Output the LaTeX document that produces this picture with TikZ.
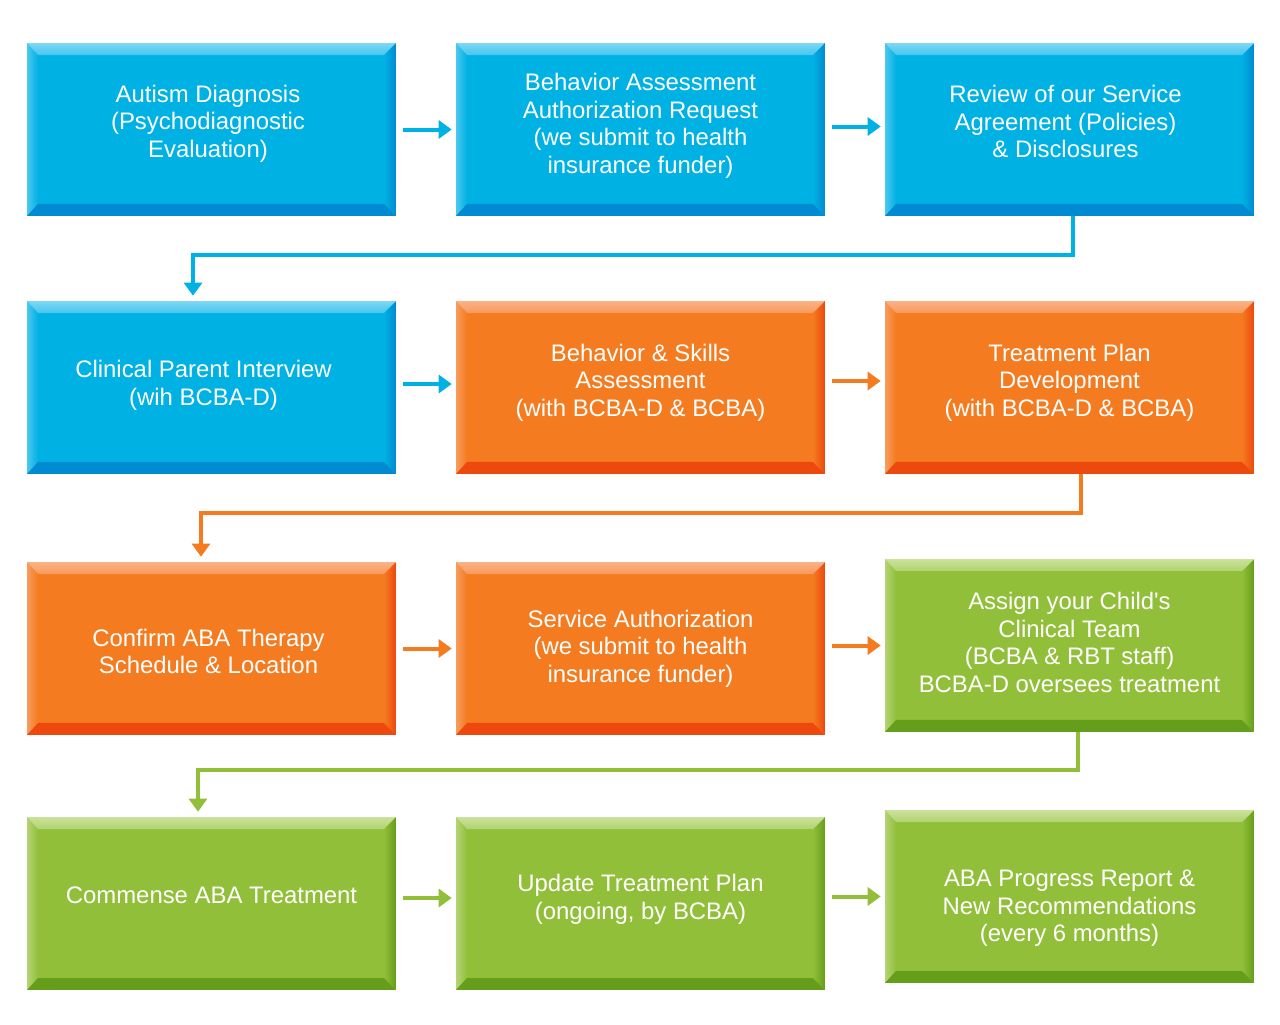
\documentclass[tikz,border=0pt]{standalone}
\usepackage{fontspec}
\setmainfont{Liberation Sans}
\usetikzlibrary{arrows.meta,calc}

\definecolor{bluemain}{RGB}{0,177,228}
\definecolor{bluelight}{RGB}{125,215,245}
\definecolor{bluedark}{RGB}{0,138,210}
\definecolor{orangemain}{RGB}{244,123,32}
\definecolor{orangelight}{RGB}{250,178,135}
\definecolor{orangedark}{RGB}{237,72,14}
\definecolor{greenmain}{RGB}{146,191,58}
\definecolor{greenlight}{RGB}{202,226,155}
\definecolor{greendark}{RGB}{101,158,26}

\tikzset{
  bevel/.style n args={3}{minimum width=7.38cm, minimum height=3.46cm, inner sep=0pt,
    fill=#1,
    path picture={
      \coordinate (nw) at (path picture bounding box.north west);
      \coordinate (ne) at (path picture bounding box.north east);
      \coordinate (sw) at (path picture bounding box.south west);
      \coordinate (se) at (path picture bounding box.south east);
      % left and right sides
      \shade[left color=#2!60!#1, right color=#1] (nw) -- (sw) -- ($(sw)+(0.22cm,0.24cm)$) -- ($(nw)+(0.22cm,-0.24cm)$) -- cycle;
      \shade[left color=#1, right color=#3] (ne) -- (se) -- ($(se)+(-0.24cm,0.24cm)$) -- ($(ne)+(-0.24cm,-0.24cm)$) -- cycle;
      % top and bottom
      \shade[top color=#2, bottom color=#2!55!#1] (nw) -- (ne) -- ($(ne)+(-0.24cm,-0.24cm)$) -- ($(nw)+(0.22cm,-0.24cm)$) -- cycle;
      \fill[#3] (sw) -- (se) -- ($(se)+(-0.24cm,0.24cm)$) -- ($(sw)+(0.22cm,0.24cm)$) -- cycle;
    }},
  bluebox/.style={bevel={bluemain}{bluelight}{bluedark}},
  orangebox/.style={bevel={orangemain}{orangelight}{orangedark}},
  greenbox/.style={bevel={greenmain}{greenlight}{greendark}},
  boxtext/.style={text=white, align=center, inner sep=0pt, font=\fontsize{13.6}{15.7}\selectfont},
  flow/.style={line width=0.08cm, -{Triangle[length=0.26cm,width=0.36cm]},
    shorten <=0.14cm, shorten >=0.08cm},
  turn/.style={line width=0.08cm, -{Triangle[length=0.26cm,width=0.36cm]},
    shorten >=0.1cm},
}

\begin{document}
\begin{tikzpicture}[x=0.02cm, y=-0.02cm]
  \useasboundingbox (0,0) rectangle (1280,1024);

  % first row
  \node[bluebox] (a1) at (211.5,129.5) {};
  \node[bluebox] (a2) at (640.5,129.5) {};
  \node[bluebox] (a3) at (1069.5,129.5) {};
  \node[boxtext] (a1t) at ([xshift=-0.07cm,yshift=0.12cm]a1) {Autism Diagnosis\\(Psychodiagnostic\\Evaluation)};
  \node[boxtext] (a2t) at ([yshift=0.07cm]a2) {Behavior Assessment\\Authorization Request\\(we submit to health\\insurance funder)};
  \node[boxtext] (a3t) at ([xshift=-0.08cm,yshift=0.16cm]a3) {Review of our Service\\Agreement (Policies)\\\& Disclosures};

  % second row
  \node[bluebox] (b1) at (211.5,387.5) {};
  \node[orangebox] (b2) at (640.5,387.5) {};
  \node[orangebox] (b3) at (1069.5,387.5) {};
  \node[boxtext] (b1t) at ([xshift=-0.16cm,yshift=0.04cm]b1) {Clinical Parent Interview\\(wih BCBA-D)};
  \node[boxtext] (b2t) at ([yshift=0.1cm]b2) {Behavior \& Skills\\Assessment\\(with BCBA-D \& BCBA)};
  \node[boxtext] (b3t) at ([yshift=0.1cm]b3) {Treatment Plan\\Development\\(with BCBA-D \& BCBA)};

  % third row
  \node[orangebox] (c1) at (211.5,648.5) {};
  \node[orangebox] (c2) at (640.5,648.5) {};
  \node[greenbox] (c3) at (1069.5,645.5) {};
  \node[boxtext] (c1t) at ([xshift=-0.06cm,yshift=-0.06cm]c1) {Confirm ABA Therapy\\Schedule \& Location};
  \node[boxtext] (c2t) at (c2) {Service Authorization\\(we submit to health\\insurance funder)};
  \node[boxtext] (c3t) at ([yshift=0.06cm]c3) {Assign your Child\textquotesingle s\\Clinical Team\\(BCBA \& RBT staff)\\BCBA-D oversees treatment};

  % fourth row
  \node[greenbox] (d1) at (211.5,903.5) {};
  \node[greenbox] (d2) at (640.5,903.5) {};
  \node[greenbox] (d3) at (1069.5,896.5) {};
  \node[boxtext] (d1t) at ([yshift=0.16cm]d1) {Commense ABA Treatment};
  \node[boxtext] (d2t) at ([yshift=0.08cm]d2) {Update Treatment Plan\\(ongoing, by BCBA)};
  \node[boxtext] (d3t) at ([yshift=-0.24cm]d3) {ABA Progress Report \&\\New Recommendations\\(every 6 months)};

  % arrows along the rows
  \draw[flow, bluemain] (a1) -- (a2);
  \draw[flow, bluemain] ([yshift=0.06cm]a2.east) -- ([yshift=0.06cm]a3.west);
  \draw[flow, bluemain] ([yshift=0.07cm]b1.east) -- ([yshift=0.07cm]b2.west);
  \draw[flow, orangemain] ([yshift=0.13cm]b2.east) -- ([yshift=0.13cm]b3.west);
  \draw[flow, orangemain] (c1) -- (c2);
  \draw[flow, orangemain] (c2.east |- c3) -- (c3.west);
  \draw[flow, greenmain] ([yshift=0.11cm]d1.east) -- ([yshift=0.11cm]d2.west);
  \draw[flow, greenmain] (d2.east |- d3) -- (d3.west);

  % arrows between the rows
  \draw[turn, bluemain] ([xshift=0.07cm]a3.south) -- ++(0,39) -| ([xshift=-0.37cm]b1.north);
  \draw[turn, orangemain] ([xshift=0.23cm]b3.south) -- ++(0,39) -| ([xshift=-0.21cm]c1.north);
  \draw[turn, greenmain] ([xshift=0.17cm]c3.south) -- ++(0,38) -| ([xshift=-0.27cm]d1.north);
\end{tikzpicture}
\end{document}
